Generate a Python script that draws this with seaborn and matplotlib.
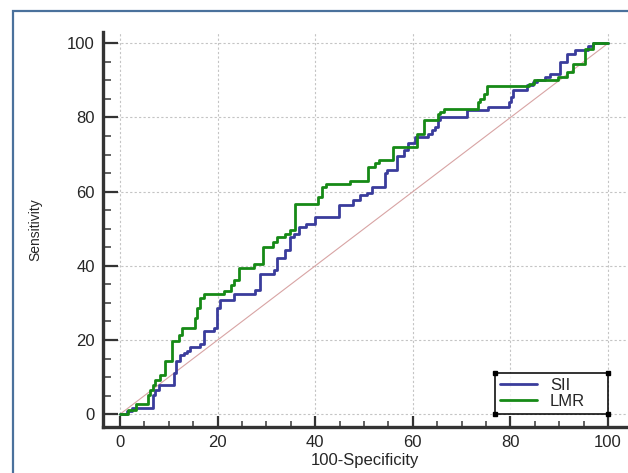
import numpy as np
import pandas as pd
import matplotlib
matplotlib.use("Agg")
import matplotlib.pyplot as plt
from matplotlib.ticker import MultipleLocator
from matplotlib.patches import Rectangle
import seaborn as sns

# ====== ROC step points (100-Specificity, Sensitivity) ======
sii_fpr = [0, 1.4, 2.4, 6.8, 7.2, 7.9, 11.1, 11.5, 12.3, 13.0, 13.8, 14.4, 16.3, 17.1,
           19.2, 19.8, 20.5, 23.4, 27.7, 28.6, 31.5, 32.1, 33.9, 34.9, 35.6, 36.6, 38.2,
           40.0, 44.8, 47.8, 49.2, 50.6, 51.6, 54.3, 54.8, 56.7, 58.1, 59.1, 60.5, 63.2,
           63.9, 64.6, 65.2, 65.6, 71.1, 75.3, 79.6, 80.1, 80.6, 83.3, 84.7, 85.4, 87.1,
           88.1, 90.2, 91.5, 93.3, 95.8, 97.0, 100]
sii_tpr = [0, 0.8, 1.6, 5.2, 6.5, 7.9, 11.0, 14.2, 16.0, 16.5, 17.1, 18.2, 18.9, 22.3,
           23.3, 28.5, 30.8, 32.3, 33.5, 37.8, 38.9, 42.0, 44.3, 47.7, 48.7, 50.5, 51.4,
           53.2, 56.3, 57.7, 59.0, 59.7, 61.3, 64.9, 65.8, 69.5, 71.2, 73.0, 74.7, 75.6,
           76.5, 77.4, 79.2, 80.1, 81.9, 82.8, 84.2, 85.5, 87.3, 88.7, 89.6, 90.0, 90.9,
           91.8, 95.0, 97.2, 98.1, 99.2, 100, 100]

lmr_fpr = [0, 1.7, 3.3, 5.8, 6.2, 6.7, 7.2, 8.1, 9.2, 10.6, 12.0, 12.7, 15.4, 15.7,
           16.3, 17.2, 21.3, 22.8, 23.3, 24.3, 27.5, 29.3, 31.3, 32.1, 33.9, 34.9, 35.9,
           40.6, 41.3, 42.2, 47.1, 50.9, 52.3, 53.0, 55.9, 60.8, 62.2, 65.2, 65.6, 66.3,
           73.4, 73.8, 74.6, 75.2, 83.7, 84.8, 89.8, 91.5, 92.8, 95.3, 97.0, 100]
lmr_tpr = [0, 1.2, 2.7, 5.2, 6.5, 7.9, 9.2, 10.6, 14.2, 19.6, 21.4, 23.3, 25.9, 28.5,
           31.2, 32.3, 33.3, 34.8, 36.2, 39.3, 40.5, 45.2, 46.5, 47.7, 48.7, 49.6, 56.6,
           58.6, 61.3, 62.0, 62.9, 66.7, 67.6, 68.5, 72.1, 75.6, 79.2, 81.0, 81.5, 82.4,
           84.2, 85.0, 86.4, 88.4, 89.1, 90.0, 90.9, 92.3, 94.5, 98.4, 100, 100]

sii_color = "#3a3c9c"
lmr_color = "#168a16"

sns.set_style("white")
plt.rcParams['font.family'] = ['Liberation Sans', 'DejaVu Sans']

fig = plt.figure(figsize=(6.28, 4.73), dpi=100)
ax = fig.add_axes([0.164, 0.097, 0.833, 0.835])

# diagonal reference line
ax.plot([0, 100], [0, 100], color="#d8a4a4", lw=0.8, zorder=2)

df_sii = pd.DataFrame({"fpr": sii_fpr, "tpr": sii_tpr})
df_lmr = pd.DataFrame({"fpr": lmr_fpr, "tpr": lmr_tpr})
sns.lineplot(data=df_sii, x="fpr", y="tpr", ax=ax, color=sii_color, lw=2.0,
             drawstyle="steps-post", estimator=None, sort=False, label="SII", zorder=3)
sns.lineplot(data=df_lmr, x="fpr", y="tpr", ax=ax, color=lmr_color, lw=2.0,
             drawstyle="steps-post", estimator=None, sort=False, label="LMR", zorder=4)

ax.set_xlim(-3.5, 103.7)
ax.set_ylim(-3.5, 103.0)
ax.xaxis.set_major_locator(MultipleLocator(20))
ax.yaxis.set_major_locator(MultipleLocator(20))
ax.xaxis.set_minor_locator(MultipleLocator(5))
ax.yaxis.set_minor_locator(MultipleLocator(5))

ax.grid(True, which="major", color="#c4c4c4", linestyle=(0, (2, 2)), lw=0.8, zorder=0)

for s in ["top", "right"]:
    ax.spines[s].set_visible(False)
for s in ["left", "bottom"]:
    ax.spines[s].set_color("#333333")
    ax.spines[s].set_linewidth(2.4)

ax.tick_params(which="both", bottom=True, left=True, top=False, right=False)
ax.tick_params(axis="y", which="major", direction="in", length=10.5, width=1.6,
               color="#333333", labelsize=12, pad=6)
ax.tick_params(axis="y", which="minor", direction="in", length=5.5, width=1.3, color="#555555")
ax.tick_params(axis="x", which="major", direction="in", length=8, width=1.6,
               color="#333333", labelsize=12, pad=6)
ax.tick_params(axis="x", which="minor", direction="in", length=4.5, width=1.3, color="#555555")

ax.set_xlabel("100-Specificity", fontsize=12, labelpad=2)
ax.set_ylabel("Sensitivity", fontsize=10, labelpad=18)

# legend stretched to the box seen in the chart
leg = ax.legend(loc="lower left", bbox_to_anchor=(76.8, 0, 23.2, 8.5), bbox_transform=ax.transData,
                mode="expand", fontsize=12, frameon=True, fancybox=False, borderaxespad=0,
                handlelength=2.2, handletextpad=0.8, borderpad=0.3, labelspacing=0.05)
leg.get_frame().set_edgecolor("black")
leg.get_frame().set_linewidth(1.4)
leg.get_frame().set_facecolor("white")
leg.set_zorder(5)

# small dots at the legend box corners
fig.canvas.draw()
bb = leg.get_frame().get_window_extent().transformed(fig.transFigure.inverted())
for cx in (bb.x0, bb.x1):
    for cy in (bb.y0, bb.y1):
        fig.add_artist(plt.Line2D([cx], [cy], marker="s", ms=3, color="black",
                                  transform=fig.transFigure, zorder=10))

# blue frame around the figure (top and left edges visible)
fig.add_artist(Rectangle((12.5 / 628, -0.1), 1.2, 1.1 - 11.5 / 473,
                         transform=fig.transFigure, fill=False,
                         edgecolor="#4a719c", lw=1.6, zorder=20))

fig.savefig("out.png", dpi=100)
